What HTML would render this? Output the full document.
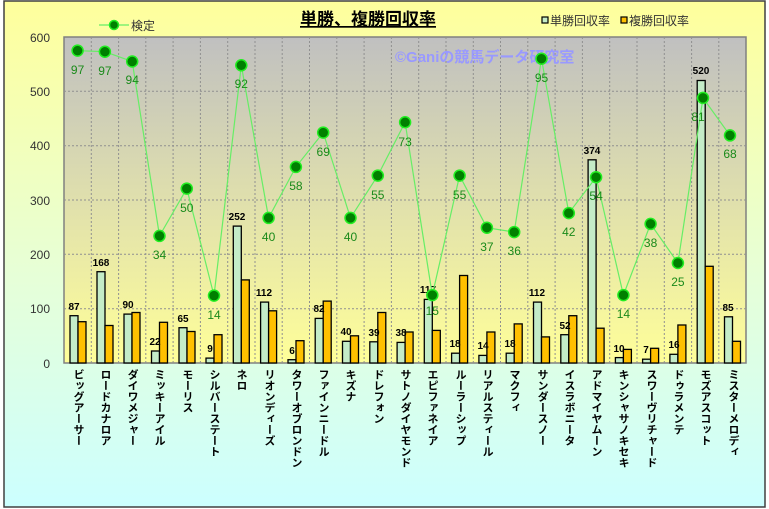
<!DOCTYPE html>
<html><head><meta charset="utf-8"><style>
body{margin:0;width:769px;height:509px;overflow:hidden;font-family:"Liberation Sans","Noto Sans CJK JP",sans-serif}
.cat{position:absolute;top:369px;writing-mode:vertical-rl;font-size:11px;font-weight:bold;color:#000;line-height:13px;font-family:"Noto Sans CJK JP","Liberation Sans",sans-serif}
</style></head><body>
<svg width="769" height="509" style="position:absolute;left:0;top:0" font-family="Liberation Sans, Noto Sans CJK JP, sans-serif">
<defs>
<linearGradient id="bg" x1="0" y1="0" x2="0" y2="1"><stop offset="0" stop-color="#ffff9c"/><stop offset="0.55" stop-color="#e6ffd8"/><stop offset="1" stop-color="#ccffff"/></linearGradient>
<linearGradient id="pa" x1="0" y1="0" x2="0" y2="1"><stop offset="0" stop-color="#c0c0c0"/><stop offset="1" stop-color="#ffff99"/></linearGradient>
</defs>
<rect x="4" y="1" width="761" height="506" fill="url(#bg)" stroke="#404040" stroke-width="1.5"/>
<rect x="64" y="37" width="682" height="326" fill="url(#pa)" stroke="#808080" stroke-width="1.5"/>
<g stroke="#909090" stroke-dasharray="2,2" stroke-width="1">
<line x1="64" y1="91.3" x2="746" y2="91.3"/><line x1="64" y1="145.7" x2="746" y2="145.7"/><line x1="64" y1="200" x2="746" y2="200"/><line x1="64" y1="254.3" x2="746" y2="254.3"/><line x1="64" y1="308.7" x2="746" y2="308.7"/>
<line x1="91.3" y1="37" x2="91.3" y2="363"/><line x1="118.6" y1="37" x2="118.6" y2="363"/><line x1="145.8" y1="37" x2="145.8" y2="363"/><line x1="173.1" y1="37" x2="173.1" y2="363"/><line x1="200.4" y1="37" x2="200.4" y2="363"/><line x1="227.7" y1="37" x2="227.7" y2="363"/><line x1="255" y1="37" x2="255" y2="363"/><line x1="282.2" y1="37" x2="282.2" y2="363"/><line x1="309.5" y1="37" x2="309.5" y2="363"/><line x1="336.8" y1="37" x2="336.8" y2="363"/><line x1="364.1" y1="37" x2="364.1" y2="363"/><line x1="391.4" y1="37" x2="391.4" y2="363"/><line x1="418.7" y1="37" x2="418.7" y2="363"/><line x1="446" y1="37" x2="446" y2="363"/><line x1="473.3" y1="37" x2="473.3" y2="363"/><line x1="500.5" y1="37" x2="500.5" y2="363"/><line x1="527.8" y1="37" x2="527.8" y2="363"/><line x1="555.1" y1="37" x2="555.1" y2="363"/><line x1="582.4" y1="37" x2="582.4" y2="363"/><line x1="609.7" y1="37" x2="609.7" y2="363"/><line x1="637" y1="37" x2="637" y2="363"/><line x1="664.3" y1="37" x2="664.3" y2="363"/><line x1="691.6" y1="37" x2="691.6" y2="363"/><line x1="718.8" y1="37" x2="718.8" y2="363"/>
</g>
<text x="395" y="62" font-size="15" font-weight="bold" fill="#9999ff">©Ganiの競馬データ研究室</text>
<g font-size="12" fill="#333" text-anchor="end">
<text x="50" y="42">600</text><text x="50" y="96">500</text><text x="50" y="150">400</text><text x="50" y="205">300</text><text x="50" y="259">200</text><text x="50" y="313">100</text><text x="50" y="368">0</text>
</g>
<g stroke="#000" stroke-width="1.3">
<g fill="#c4ecc8">
<rect x="70" y="315.7" width="8" height="47.3"/><rect x="97" y="271.7" width="8" height="91.3"/><rect x="124" y="314.1" width="8" height="48.9"/><rect x="151.5" y="351" width="8" height="12"/><rect x="179" y="327.7" width="8" height="35.3"/><rect x="206" y="358.1" width="8" height="4.9"/><rect x="233.3" y="226.1" width="8" height="136.9"/><rect x="260.6" y="302.1" width="8" height="60.9"/><rect x="288" y="359.7" width="8" height="3.3"/><rect x="315.2" y="318.4" width="8" height="44.6"/><rect x="342.5" y="341.3" width="8" height="21.7"/><rect x="369.8" y="341.8" width="8" height="21.2"/><rect x="397.1" y="342.4" width="8" height="20.6"/><rect x="424.3" y="299.4" width="8" height="63.6"/><rect x="451.6" y="353.2" width="8" height="9.8"/><rect x="478.9" y="355.4" width="8" height="7.6"/><rect x="506.2" y="353.2" width="8" height="9.8"/><rect x="533.5" y="302.1" width="8" height="60.9"/><rect x="560.8" y="334.7" width="8" height="28.3"/><rect x="588.1" y="159.8" width="8" height="203.2"/><rect x="615.4" y="357.6" width="8" height="5.4"/><rect x="642.6" y="359.2" width="8" height="3.8"/><rect x="669.9" y="354.3" width="8" height="8.7"/><rect x="697.2" y="80.5" width="8" height="282.5"/><rect x="724.5" y="316.8" width="8" height="46.2"/>
</g>
<g fill="#ffc000">
<rect x="78" y="321.7" width="8" height="41.3"/><rect x="105" y="325.5" width="8" height="37.5"/><rect x="132" y="312.5" width="8" height="50.5"/><rect x="159.5" y="322.3" width="8" height="40.7"/><rect x="187" y="331.5" width="8" height="31.5"/><rect x="214" y="334.7" width="8" height="28.3"/><rect x="241.3" y="279.9" width="8" height="83.1"/><rect x="268.6" y="310.8" width="8" height="52.2"/><rect x="296" y="340.7" width="8" height="22.3"/><rect x="323.2" y="301.1" width="8" height="61.9"/><rect x="350.5" y="335.8" width="8" height="27.2"/><rect x="377.8" y="312.5" width="8" height="50.5"/><rect x="405.1" y="332" width="8" height="31"/><rect x="432.3" y="330.4" width="8" height="32.6"/><rect x="459.6" y="275.5" width="8" height="87.5"/><rect x="486.9" y="332" width="8" height="31"/><rect x="514.2" y="323.9" width="8" height="39.1"/><rect x="541.5" y="336.9" width="8" height="26.1"/><rect x="568.8" y="315.7" width="8" height="47.3"/><rect x="596.1" y="328.2" width="8" height="34.8"/><rect x="623.4" y="349.4" width="8" height="13.6"/><rect x="650.6" y="348.3" width="8" height="14.7"/><rect x="677.9" y="325" width="8" height="38"/><rect x="705.2" y="266.3" width="8" height="96.7"/><rect x="732.5" y="341.3" width="8" height="21.7"/>
</g>
</g>
<g font-size="10" font-weight="bold" fill="#000" text-anchor="middle">
<text x="74" y="310">87</text><text x="101" y="266">168</text><text x="128" y="308">90</text><text x="155" y="345">22</text><text x="183" y="322">65</text><text x="210" y="352">9</text><text x="237" y="220">252</text><text x="264" y="296">112</text><text x="292" y="354">6</text><text x="319" y="312">82</text><text x="346" y="335">40</text><text x="374" y="336">39</text><text x="401" y="336">38</text><text x="428" y="293">117</text><text x="455" y="347">18</text><text x="483" y="349">14</text><text x="510" y="347">18</text><text x="537" y="296">112</text><text x="565" y="329">52</text><text x="592" y="154">374</text><text x="619" y="352">10</text><text x="646" y="353">7</text><text x="674" y="348">16</text><text x="701" y="74">520</text><text x="728" y="311">85</text>
</g>
<polyline fill="none" stroke="#66ee66" stroke-width="1.2" points="77.6,50.6 104.9,51.7 132.2,61.5 159.5,235.9 186.8,188.6 214,295.6 241.3,65.3 268.6,217.9 295.9,166.9 323.2,132.6 350.5,217.9 377.8,175.6 405.1,122.3 432.3,295.1 459.6,175.6 486.9,227.7 514.2,232.1 541.5,58.7 568.8,213.1 596.1,177.2 623.4,295.1 650.6,223.9 677.9,263 703,97.9 730,135.4"/>
<g fill="#008000" stroke="#22ee22" stroke-width="1.5">
<circle cx="77.6" cy="50.6" r="5.5"/><circle cx="104.9" cy="51.7" r="5.5"/><circle cx="132.2" cy="61.5" r="5.5"/><circle cx="159.5" cy="235.9" r="5.5"/><circle cx="186.8" cy="188.6" r="5.5"/><circle cx="214" cy="295.6" r="5.5"/><circle cx="241.3" cy="65.3" r="5.5"/><circle cx="268.6" cy="217.9" r="5.5"/><circle cx="295.9" cy="166.9" r="5.5"/><circle cx="323.2" cy="132.6" r="5.5"/><circle cx="350.5" cy="217.9" r="5.5"/><circle cx="377.8" cy="175.6" r="5.5"/><circle cx="405.1" cy="122.3" r="5.5"/><circle cx="432.3" cy="295.1" r="5.5"/><circle cx="459.6" cy="175.6" r="5.5"/><circle cx="486.9" cy="227.7" r="5.5"/><circle cx="514.2" cy="232.1" r="5.5"/><circle cx="541.5" cy="58.7" r="5.5"/><circle cx="568.8" cy="213.1" r="5.5"/><circle cx="596.1" cy="177.2" r="5.5"/><circle cx="623.4" cy="295.1" r="5.5"/><circle cx="650.6" cy="223.9" r="5.5"/><circle cx="677.9" cy="263" r="5.5"/><circle cx="703" cy="97.9" r="5.5"/><circle cx="730" cy="135.4" r="5.5"/>
</g>
<g font-size="12" fill="#1a8a1a" text-anchor="middle">
<text x="77.6" y="74">97</text><text x="104.9" y="75">97</text><text x="132.2" y="84">94</text><text x="159.5" y="259">34</text><text x="186.8" y="212">50</text><text x="214" y="319">14</text><text x="241.3" y="88">92</text><text x="268.6" y="241">40</text><text x="295.9" y="190">58</text><text x="323.2" y="156">69</text><text x="350.5" y="241">40</text><text x="377.8" y="199">55</text><text x="405.1" y="146">73</text><text x="432.3" y="315">15</text><text x="459.6" y="199">55</text><text x="486.9" y="251">37</text><text x="514.2" y="255">36</text><text x="541.5" y="82">95</text><text x="568.8" y="236">42</text><text x="596.1" y="200">54</text><text x="623.4" y="318">14</text><text x="650.6" y="247">38</text><text x="677.9" y="286">25</text><text x="698" y="121">81</text><text x="730" y="158">68</text>
</g>
<text x="368" y="25" font-size="17" font-weight="bold" text-anchor="middle" fill="#000" text-decoration="underline">単勝、複勝回収率</text>
<line x1="99" y1="25" x2="129" y2="25" stroke="#66ee66" stroke-width="1.2"/>
<circle cx="114" cy="25" r="4.5" fill="#008000" stroke="#22ee22" stroke-width="1.5"/>
<text x="131" y="30" font-size="12" fill="#333">検定</text>
<rect x="542" y="17" width="6" height="6" fill="#c4ecc8" stroke="#000" stroke-width="1.2"/>
<text x="550" y="25" font-size="12" fill="#333">単勝回収率</text>
<rect x="621" y="17" width="6" height="6" fill="#ffc000" stroke="#000" stroke-width="1.2"/>
<text x="629" y="25" font-size="12" fill="#333">複勝回収率</text>
</svg>
<div class="cat" style="left:72px">ビッグアーサー</div>
<div class="cat" style="left:99px">ロードカナロア</div>
<div class="cat" style="left:126px">ダイワメジャー</div>
<div class="cat" style="left:153px">ミッキーアイル</div>
<div class="cat" style="left:181px">モーリス</div>
<div class="cat" style="left:208px">シルバーステート</div>
<div class="cat" style="left:235px">ネロ</div>
<div class="cat" style="left:263px">リオンディーズ</div>
<div class="cat" style="left:290px">タワーオブロンドン</div>
<div class="cat" style="left:317px">ファインニードル</div>
<div class="cat" style="left:344px">キズナ</div>
<div class="cat" style="left:372px">ドレフォン</div>
<div class="cat" style="left:399px">サトノダイヤモンド</div>
<div class="cat" style="left:426px">エピファネイア</div>
<div class="cat" style="left:454px">ルーラーシップ</div>
<div class="cat" style="left:481px">リアルスティール</div>
<div class="cat" style="left:508px">マクフィ</div>
<div class="cat" style="left:536px">サンダースノー</div>
<div class="cat" style="left:563px">イスラボニータ</div>
<div class="cat" style="left:590px">アドマイヤムーン</div>
<div class="cat" style="left:617px">キンシャサノキセキ</div>
<div class="cat" style="left:645px">スワーヴリチャード</div>
<div class="cat" style="left:672px">ドゥラメンテ</div>
<div class="cat" style="left:699px">モズアスコット</div>
<div class="cat" style="left:727px">ミスターメロディ</div>
</body></html>
